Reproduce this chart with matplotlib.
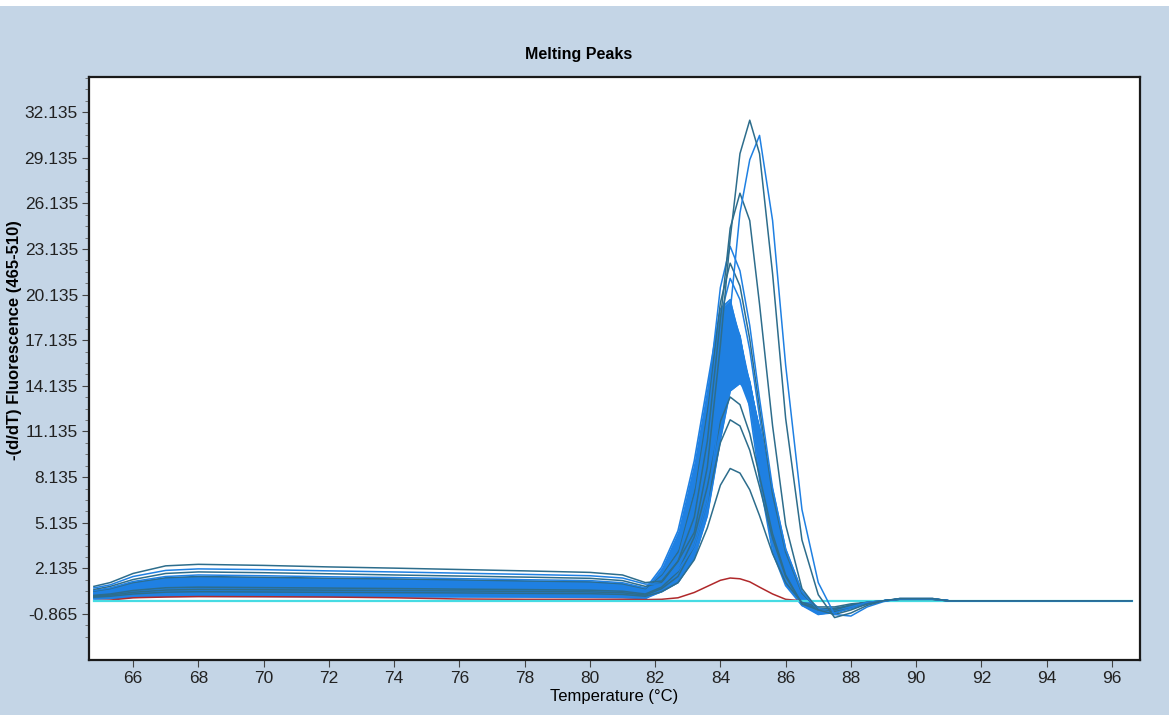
import numpy as np
import matplotlib
matplotlib.use("Agg")
import matplotlib.pyplot as plt
from matplotlib.patches import Rectangle
from matplotlib.ticker import FixedLocator

# ---- data ----
temp = [64.8, 65.3, 66.0, 67.0, 68.0, 70.0, 72.0, 74.0, 76.0, 78.0, 80.0, 81.0,
        81.7, 82.2, 82.7, 83.2, 83.6, 84.0, 84.3, 84.6, 84.9, 85.2, 85.6, 86.0,
        86.5, 87.0, 87.5, 88.0, 88.5, 89.0, 89.5, 90.5, 91.0, 96.6]

# tall samples
peak_a = [0.95, 1.2, 1.8, 2.3, 2.4, 2.33, 2.23, 2.15, 2.06, 1.97, 1.87, 1.7,
          1.2, 1.3, 2.6, 4.5, 8.8, 16.8, 23.8, 29.4, 31.6, 29.4, 21.5, 12.0,
          4.0, 0.4, -1.1, -0.8, -0.3, 0.0, 0.15, 0.15, 0.0, 0.0]
peak_b = [0.85, 1.05, 1.6, 2.0, 2.1, 2.05, 1.97, 1.9, 1.82, 1.74, 1.65, 1.5,
          1.1, 1.1, 2.0, 3.6, 6.5, 12.5, 19.0, 25.5, 29.0, 30.6, 25.0, 15.5,
          6.0, 1.2, -0.9, -1.0, -0.4, -0.05, 0.15, 0.15, 0.0, 0.0]
peak_c = [0.75, 0.95, 1.4, 1.8, 1.9, 1.85, 1.78, 1.7, 1.63, 1.56, 1.48, 1.33,
          0.95, 1.2, 2.6, 5.5, 10.5, 18.5, 24.5, 26.8, 25.0, 19.5, 11.5, 5.0,
          0.8, -0.6, -0.9, -0.6, -0.2, 0.0, 0.15, 0.15, 0.0, 0.0]
peak_d = [0.68, 0.85, 1.27, 1.6, 1.7, 1.65, 1.58, 1.53, 1.46, 1.39, 1.33, 1.19,
          0.85, 1.8, 3.4, 7.5, 13.1, 20.6, 23.3, 21.7, 18.1, 13.3, 7.4, 3.4,
          0.6, -0.6, -0.8, -0.5, -0.2, 0.0, 0.12, 0.12, 0.0, 0.0]
peak_e = [0.64, 0.8, 1.2, 1.52, 1.6, 1.55, 1.49, 1.44, 1.38, 1.31, 1.25, 1.12,
          0.8, 1.7, 3.2, 7.1, 12.5, 19.6, 22.2, 20.7, 17.2, 12.7, 7.0, 3.2,
          0.5, -0.6, -0.7, -0.5, -0.2, 0.0, 0.12, 0.12, 0.0, 0.0]
peak_f = [0.6, 0.75, 1.13, 1.43, 1.5, 1.46, 1.4, 1.35, 1.29, 1.23, 1.17, 1.05,
          0.75, 1.6, 3.1, 6.8, 11.9, 18.7, 21.2, 19.8, 16.5, 12.1, 6.7, 3.0,
          0.5, -0.5, -0.7, -0.4, -0.1, 0.0, 0.12, 0.12, 0.0, 0.0]

# main cluster
bulk_1 = [0.62, 0.78, 1.16, 1.47, 1.55, 1.5, 1.44, 1.4, 1.33, 1.27, 1.21, 1.09,
          0.78, 2.2, 4.6, 9.2, 14.2, 19.2, 19.8, 17.0, 12.6, 8.0, 3.2, 1.0,
          -0.3, -0.7, -0.6, -0.3, -0.1, 0.0, 0.1, 0.12, 0.0, 0.0]
bulk_2 = [0.38, 0.48, 0.71, 0.9, 0.95, 0.92, 0.88, 0.86, 0.82, 0.78, 0.74, 0.67,
          0.48, 1.9, 4.0, 8.4, 13.2, 18.4, 19.3, 17.4, 13.4, 8.8, 3.8, 1.2,
          -0.2, -0.8, -0.6, -0.3, -0.1, 0.0, 0.1, 0.12, 0.0, 0.0]
bulk_3 = [0.56, 0.7, 1.05, 1.33, 1.4, 1.36, 1.3, 1.26, 1.2, 1.15, 1.09, 0.98,
          0.7, 1.6, 3.4, 7.4, 12.2, 17.4, 18.7, 17.4, 13.8, 9.3, 4.4, 1.5,
          -0.3, -0.9, -0.7, -0.3, -0.1, 0.0, 0.1, 0.1, 0.0, 0.0]
bulk_4 = [0.22, 0.28, 0.41, 0.52, 0.55, 0.53, 0.51, 0.5, 0.47, 0.45, 0.43, 0.39,
          0.28, 1.4, 2.9, 6.4, 11.0, 16.4, 18.1, 17.2, 14.0, 9.8, 4.9, 1.7,
          -0.2, -0.6, -0.5, -0.3, -0.1, 0.0, 0.1, 0.1, 0.0, 0.0]
bulk_5 = [0.5, 0.63, 0.94, 1.19, 1.25, 1.21, 1.16, 1.13, 1.08, 1.03, 0.98, 0.88,
          0.63, 1.2, 2.5, 5.6, 10.0, 15.4, 17.5, 16.9, 14.2, 10.4, 5.4, 2.0,
          -0.1, -0.8, -0.8, -0.4, -0.1, 0.0, 0.1, 0.12, 0.0, 0.0]
bulk_6 = [0.32, 0.4, 0.6, 0.76, 0.8, 0.78, 0.74, 0.72, 0.69, 0.66, 0.62, 0.56,
          0.4, 1.0, 2.1, 4.8, 8.8, 14.4, 16.9, 16.6, 14.4, 10.8, 5.9, 2.3,
          0.0, -0.6, -0.6, -0.3, -0.1, 0.0, 0.1, 0.1, 0.0, 0.0]
bulk_7 = [0.44, 0.55, 0.83, 1.05, 1.1, 1.07, 1.02, 0.99, 0.95, 0.9, 0.86, 0.77,
          0.55, 0.9, 1.8, 4.2, 7.9, 13.4, 16.3, 16.1, 14.4, 11.0, 6.3, 2.6,
          0.2, -0.7, -0.7, -0.3, -0.1, 0.0, 0.1, 0.12, 0.0, 0.0]
bulk_8 = [0.12, 0.15, 0.23, 0.29, 0.3, 0.29, 0.28, 0.27, 0.26, 0.25, 0.23, 0.21,
          0.15, 0.8, 1.6, 3.7, 7.0, 12.4, 15.4, 15.6, 14.3, 11.2, 6.7, 2.9,
          0.4, -0.5, -0.6, -0.3, -0.1, 0.0, 0.1, 0.1, 0.0, 0.0]
bulk_9 = [0.28, 0.35, 0.53, 0.67, 0.7, 0.68, 0.65, 0.63, 0.6, 0.57, 0.55, 0.49,
          0.35, 0.7, 1.4, 3.2, 6.3, 11.5, 14.6, 15.0, 14.0, 11.3, 7.0, 3.1,
          0.5, -0.6, -0.8, -0.4, -0.1, 0.0, 0.1, 0.1, 0.0, 0.0]
bulk_10 = [0.18, 0.23, 0.34, 0.43, 0.45, 0.44, 0.42, 0.41, 0.39, 0.37, 0.35, 0.32,
           0.23, 0.6, 1.2, 2.8, 5.6, 10.6, 13.8, 14.3, 13.6, 11.4, 7.3, 3.4,
           0.6, -0.5, -0.7, -0.4, -0.1, 0.0, 0.1, 0.1, 0.0, 0.0]
bulk = [bulk_1, bulk_2, bulk_3, bulk_4, bulk_5, bulk_6, bulk_7, bulk_8, bulk_9, bulk_10]

# lower samples
low_g = [0.36, 0.45, 0.68, 0.86, 0.9, 0.87, 0.84, 0.81, 0.77, 0.74, 0.7, 0.63,
         0.45, 0.9, 1.9, 4.2, 7.5, 11.8, 13.4, 12.9, 11.0, 8.2, 4.4, 1.7,
         -0.2, -0.6, -0.6, -0.3, -0.1, 0.0, 0.1, 0.1, 0.0, 0.0]
low_h = [0.3, 0.38, 0.56, 0.71, 0.75, 0.73, 0.7, 0.68, 0.65, 0.62, 0.59, 0.53,
         0.38, 0.8, 1.6, 3.6, 6.5, 10.4, 11.9, 11.5, 9.9, 7.5, 4.1, 1.6,
         -0.2, -0.5, -0.5, -0.3, -0.1, 0.0, 0.1, 0.1, 0.0, 0.0]
low_i = [0.24, 0.3, 0.45, 0.57, 0.6, 0.58, 0.56, 0.54, 0.52, 0.49, 0.47, 0.42,
         0.3, 0.6, 1.2, 2.7, 4.8, 7.6, 8.7, 8.4, 7.3, 5.6, 3.1, 1.2,
         -0.1, -0.4, -0.4, -0.2, -0.1, 0.0, 0.1, 0.1, 0.0, 0.0]

# negative control (red) and blank (cyan)
control = [0.0, 0.05, 0.2, 0.25, 0.28, 0.27, 0.25, 0.2, 0.12, 0.1, 0.1, 0.1,
           0.08, 0.1, 0.2, 0.55, 0.95, 1.35, 1.5, 1.45, 1.25, 0.9, 0.45, 0.1,
           0.0, 0.0, 0.0, 0.0, 0.0, 0.0, 0.0, 0.0, 0.0, 0.0]
blank = [0.0] * len(temp)

y_ticks = [-0.865, 2.135, 5.135, 8.135, 11.135, 14.135, 17.135, 20.135,
           23.135, 26.135, 29.135, 32.135]
x_ticks = [66, 68, 70, 72, 74, 76, 78, 80, 82, 84, 86, 88, 90, 92, 94, 96]

BLUE = "#1f80e2"
TEAL = "#2d6d8c"
RED = "#b0282a"
CYAN = "#46dbe3"
BG = "#c4d5e6"
FONT = ["Liberation Sans", "DejaVu Sans"]

fig = plt.figure(figsize=(11.69, 7.15), dpi=100, facecolor=BG)
fig.patches.append(Rectangle((0, 1 - 6 / 715), 1, 6 / 715, transform=fig.transFigure,
                             facecolor="white", edgecolor="none", zorder=0))
ax = fig.add_axes([89 / 1169, 1 - 660 / 715, (1140 - 89) / 1169, (660 - 77) / 715])
ax.set_facecolor("white")

# solid band of the main cluster
arr = np.array(bulk)
ax.fill_between(temp, arr.min(axis=0), arr.max(axis=0), color=BLUE, lw=0, zorder=2)
for b in bulk:
    ax.plot(temp, b, color=BLUE, lw=1.2, zorder=3)

ax.plot(temp, control, color=RED, lw=1.1, zorder=3.5)
ax.plot(temp, blank, color=CYAN, lw=1.6, zorder=3.6)
for y, c in [(low_g, TEAL), (low_h, TEAL), (low_i, TEAL),
             (peak_f, BLUE), (peak_e, TEAL), (peak_d, BLUE),
             (peak_c, TEAL), (peak_b, BLUE), (peak_a, TEAL)]:
    ax.plot(temp, y, color=c, lw=1.1, zorder=4)

ax.set_xlim(64.65, 96.86)
ax.set_ylim(-3.89, 34.44)
ax.set_xticks(x_ticks)
ax.set_xticklabels([str(t) for t in x_ticks], family=FONT, fontsize=12.5)
ax.set_yticks(y_ticks)
ax.set_yticklabels([f"{t:.3f}" for t in y_ticks], family=FONT, fontsize=12.5)
ax.yaxis.set_minor_locator(FixedLocator(np.arange(-2.365, 34.4, 0.75)))
ax.tick_params(axis="both", which="major", direction="out", length=5,
               color="#444444", labelcolor="#222222", pad=3)
ax.tick_params(axis="y", which="minor", direction="out", length=3, color="#666666")
for s in ax.spines.values():
    s.set_color("#1a1a1a")
    s.set_linewidth(1.6)

ax.set_xlabel("Temperature (°C)", family=FONT, fontsize=12, labelpad=2)
ax.set_ylabel("-(d/dT) Fluorescence (465-510)", family=FONT, fontsize=12,
              fontweight="bold")
ax.yaxis.set_label_coords((22 - 89) / 1051, (660 - 340) / 583)
fig.text(0.495, 1 - 55 / 715, "Melting Peaks", ha="center", va="center",
         family=FONT, fontsize=11.5, fontweight="bold")

fig.savefig("out.png", dpi=100, facecolor=BG)
